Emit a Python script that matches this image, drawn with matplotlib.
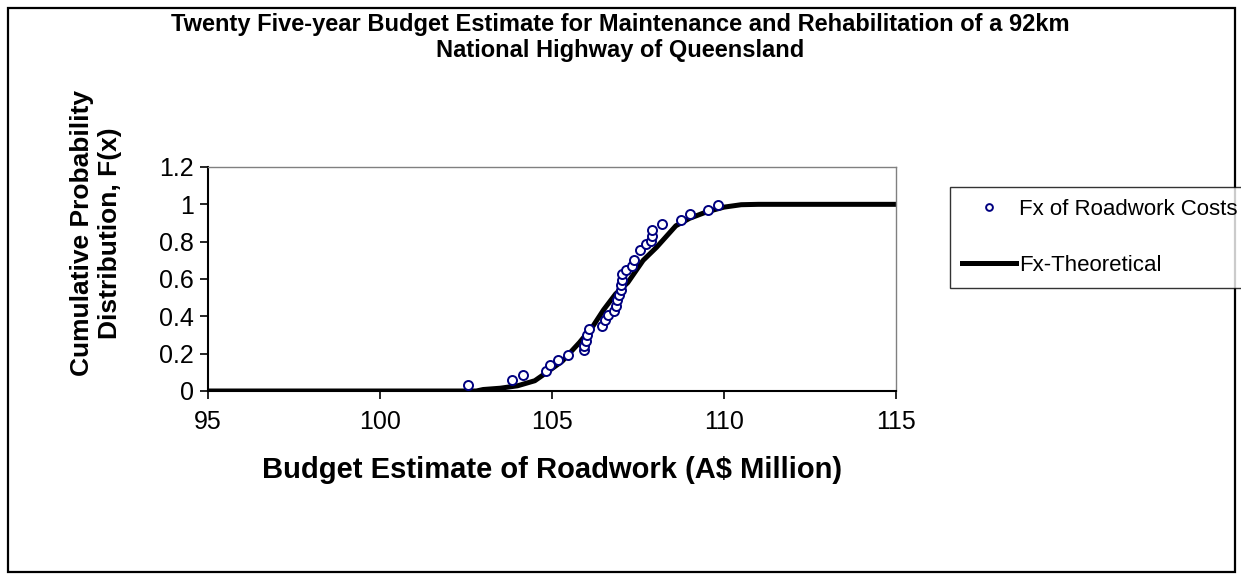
import matplotlib
matplotlib.use("Agg")
import matplotlib.pyplot as plt

plt.rcParams['font.family'] = ['Liberation Sans', 'DejaVu Sans']

# empirical Fx of roadwork costs (A$ million, cumulative probability)
cost_x = [102.57, 103.85, 104.15, 104.83, 104.94, 105.17, 105.47, 105.94, 105.94,
          105.99, 106.02, 106.08, 106.44, 106.54, 106.64, 106.80, 106.86, 106.90,
          106.95, 107.00, 107.00, 107.03, 107.04, 107.15, 107.33, 107.38, 107.55,
          107.72, 107.88, 107.92, 107.92, 108.20, 108.75, 109.00, 109.54, 109.83]
cost_fx = [0.030, 0.060, 0.085, 0.108, 0.138, 0.167, 0.192, 0.218, 0.240,
           0.268, 0.300, 0.330, 0.350, 0.380, 0.405, 0.430, 0.458, 0.486,
           0.512, 0.540, 0.568, 0.595, 0.625, 0.648, 0.672, 0.702, 0.755,
           0.785, 0.805, 0.830, 0.865, 0.893, 0.918, 0.948, 0.970, 0.995]

# theoretical curve
theo_x = [95.0, 102.8, 103.0, 103.5, 104.0, 104.5, 104.85, 105.3, 105.8, 106.2,
          106.5, 106.85, 107.2, 107.5, 107.65, 108.04, 108.6, 109.0, 109.5,
          110.0, 110.5, 111.0, 115.0]
theo_fx = [0.0, 0.0, 0.008, 0.015, 0.028, 0.055, 0.10, 0.16, 0.26, 0.35,
           0.435, 0.52, 0.58, 0.66, 0.70, 0.77, 0.885, 0.925, 0.96,
           0.985, 0.998, 1.0, 1.0]

x_ticks = [95, 100, 105, 110, 115]
y_ticks = [0, 0.2, 0.4, 0.6, 0.8, 1.0, 1.2]
y_labels = ["0", "0.2", "0.4", "0.6", "0.8", "1", "1.2"]

W, H = 1241, 580
fig = plt.figure(figsize=(W / 100, H / 100), dpi=100)
ax = fig.add_axes([208 / W, 1 - 391 / H, 688 / W, 224 / H])

ax.plot(theo_x, theo_fx, color="black", lw=3.6, label="Fx-Theoretical", zorder=2)
ax.plot(cost_x, cost_fx, linestyle="none", marker="o", markersize=6.5,
        markerfacecolor="white", markeredgecolor="#000080", markeredgewidth=1.4,
        label="Fx of Roadwork Costs", zorder=3)

ax.set_xlim(95, 115)
ax.set_ylim(0, 1.2)
ax.set_xticks(x_ticks)
ax.set_yticks(y_ticks)
ax.set_yticklabels(y_labels)
ax.tick_params(direction="out", length=6, width=1.2, labelsize=18)
ax.tick_params(axis="x", pad=8)
ax.tick_params(axis="y", pad=4)

for s in ("left", "bottom"):
    ax.spines[s].set_linewidth(1.5)
    ax.spines[s].set_color("black")
for s in ("top", "right"):
    ax.spines[s].set_linewidth(1.0)
    ax.spines[s].set_color("#808080")

fig.text(552 / W, 1 - 470 / H, "Budget Estimate of Roadwork (A$ Million)",
         ha="center", va="center", fontsize=21, fontweight="bold")
fig.text(96 / W, 1 - 233 / H, "Cumulative Probability\nDistribution, F(x)",
         ha="center", va="center", rotation=90, fontsize=19, fontweight="bold",
         linespacing=1.2)

fig.text(0.5, 1 - 24 / H, "Twenty Five-year Budget Estimate for Maintenance and Rehabilitation of a 92km",
         ha="center", va="center", fontsize=17, fontweight="bold")
fig.text(0.5, 1 - 51 / H, "National Highway of Queensland",
         ha="center", va="center", fontsize=17, fontweight="bold")

handles, labels = ax.get_legend_handles_labels()
leg = fig.legend(handles[::-1], labels[::-1], loc="upper left",
                 bbox_to_anchor=(950 / W, 1 - 187 / H), borderaxespad=0,
                 fontsize=16, frameon=True, fancybox=False, handlelength=2.4,
                 handletextpad=0.15, labelspacing=1.55, borderpad=0.55,
                 markerscale=0.75)
leg.get_frame().set_edgecolor("black")
leg.get_frame().set_linewidth(1.0)

# outer chart border
border = plt.Rectangle((8 / W, 8 / H), 1 - 14 / W, 1 - 16 / H,
                       transform=fig.transFigure, fill=False, edgecolor="black", lw=1.6)
fig.patches.append(border)

fig.savefig("out.png", dpi=100)
